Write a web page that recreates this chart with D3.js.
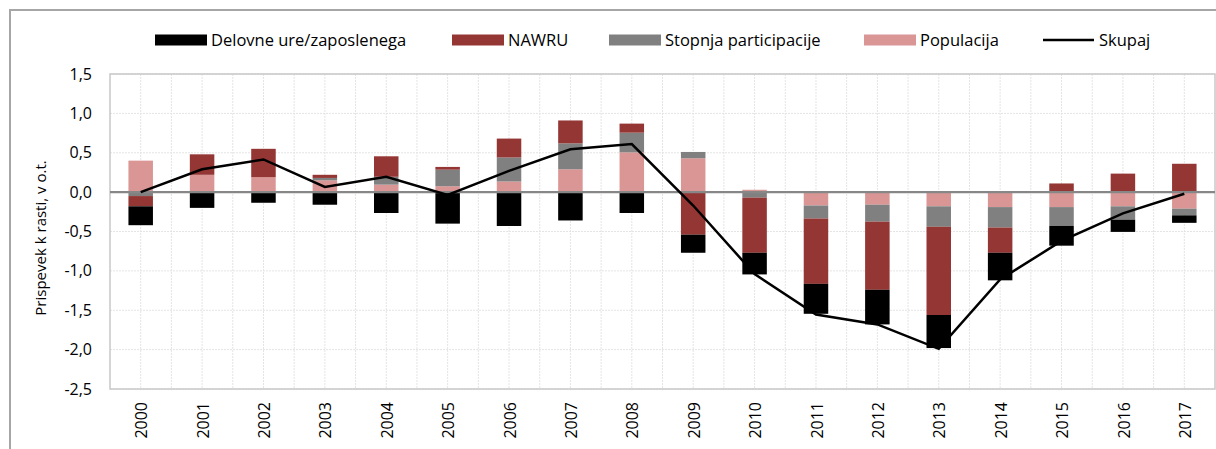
<!DOCTYPE html>
<html>
<head>
<meta charset="utf-8">
<script src="https://cdn.jsdelivr.net/npm/d3@7"></script>
<style>
  body { margin: 0; background: #fff; }
  svg { display: block; font-family: "Open Sans", "Noto Sans", sans-serif; }
</style>
</head>
<body>
<svg id="chart" width="1216" height="449"></svg>
<script>
/* podatki - prispevki k rasti potencialnega zaposlovanja */
var years = ["2000","2001","2002","2003","2004","2005","2006","2007","2008",
             "2009","2010","2011","2012","2013","2014","2015","2016","2017"];
var populacija = [0.40, 0.22, 0.19, 0.15, 0.095, 0.075, 0.135, 0.29, 0.505,
                  0.43, 0.03, -0.17, -0.16, -0.18, -0.19, -0.19, -0.18, -0.21];
var stopnja = [-0.05, 0, 0, 0.03, 0.10, 0.21, 0.305, 0.33, 0.25,
               0.08, -0.07, -0.165, -0.215, -0.26, -0.26, -0.24, -0.17, -0.085];
var nawru = [-0.13, 0.26, 0.36, 0.04, 0.26, 0.035, 0.24, 0.29, 0.115,
             -0.54, -0.70, -0.83, -0.865, -1.12, -0.32, 0.11, 0.235, 0.36];
var delovne = [-0.24, -0.20, -0.135, -0.16, -0.265, -0.40, -0.43, -0.36, -0.265,
               -0.23, -0.275, -0.38, -0.44, -0.42, -0.35, -0.25, -0.155, -0.095];
var skupaj = [0.0, 0.29, 0.415, 0.065, 0.195, -0.035, 0.27, 0.545, 0.61,
              -0.17, -1.04, -1.555, -1.68, -1.99, -1.11, -0.62, -0.27, -0.02];
var yTicks = [-2.5, -2.0, -1.5, -1.0, -0.5, 0, 0.5, 1.0, 1.5];

var svg = d3.select("#chart");
var margin = { top: 74, right: 1, bottom: 60, left: 110 },
    width = 1216 - margin.left - margin.right,
    height = 389 - margin.top;

var colors = {
  delovne: "#000000",
  nawru: "#943634",
  stopnja: "#808080",
  populacija: "#d99694"
};

/* outer frame */
svg.append("path")
  .attr("d", "M10,449 L10,10 L1216,10")
  .attr("fill", "none")
  .attr("stroke", "#a6a6a6")
  .attr("stroke-width", 2);

var g = svg.append("g").attr("transform", "translate(" + margin.left + "," + margin.top + ")");

var x = d3.scaleBand().domain(years).range([0, width]);
var y = d3.scaleLinear().domain([-2.5, 1.5]).range([height, 0]);

/* grid */
var vgrid = [];
years.forEach(function(d, i) {
  vgrid.push(x(d) + x.bandwidth() / 2);
  if (i > 0) vgrid.push(x(d));
});
g.append("g").selectAll("line").data(vgrid).enter().append("line")
  .attr("x1", function(d) { return d; }).attr("x2", function(d) { return d; })
  .attr("y1", 0).attr("y2", height)
  .attr("stroke", "#e4e4e4").attr("stroke-width", 1).attr("stroke-dasharray", "2,1");
g.append("g").selectAll("line").data(yTicks).enter().append("line")
  .attr("x1", 0).attr("x2", width)
  .attr("y1", function(d) { return y(d); }).attr("y2", function(d) { return y(d); })
  .attr("stroke", "#e4e4e4").attr("stroke-width", 1).attr("stroke-dasharray", "2,1");

/* plot border */
g.append("rect")
  .attr("x", 0).attr("y", 0).attr("width", width).attr("height", height)
  .attr("fill", "none").attr("stroke", "#c8c8c8").attr("stroke-width", 1.5);

/* stacked bars */
var rows = years.map(function(d, i) {
  return { year: d, populacija: populacija[i], stopnja: stopnja[i], nawru: nawru[i], delovne: delovne[i] };
});
var keys = ["populacija", "stopnja", "nawru", "delovne"];
var series = d3.stack().keys(keys).offset(d3.stackOffsetDiverging)(rows);
var barW = 24.5;

g.append("g").selectAll("g").data(series).enter().append("g")
  .attr("fill", function(s) { return colors[s.key]; })
  .selectAll("rect").data(function(s) { return s; }).enter().append("rect")
  .attr("x", function(d) { return x(d.data.year) + (x.bandwidth() - barW) / 2; })
  .attr("width", barW)
  .attr("y", function(d) { return y(Math.max(d[0], d[1])); })
  .attr("height", function(d) { return Math.abs(y(d[0]) - y(d[1])); });

/* zero line */
g.append("line")
  .attr("x1", 0).attr("x2", width)
  .attr("y1", y(0)).attr("y2", y(0))
  .attr("stroke", "#878787").attr("stroke-width", 2.2);

/* skupaj line */
var line = d3.line()
  .x(function(d, i) { return x(years[i]) + x.bandwidth() / 2; })
  .y(function(d) { return y(d); });
g.append("path").datum(skupaj)
  .attr("d", line)
  .attr("fill", "none")
  .attr("stroke", "#000")
  .attr("stroke-width", 2.5);

/* y axis labels */
var fmt = function(d) { return d3.format(".1f")(d).replace(".", ",").replace("−", "-"); };
g.append("g").selectAll("text").data(yTicks).enter().append("text")
  .attr("x", -18)
  .attr("y", function(d) { return y(d); })
  .attr("dy", "0.35em")
  .attr("text-anchor", "end")
  .attr("font-size", 16)
  .attr("fill", "#000")
  .text(fmt);

/* x axis labels */
g.append("g").selectAll("text").data(years).enter().append("text")
  .attr("transform", function(d) {
    return "translate(" + (x(d) + x.bandwidth() / 2 + 1) + "," + (height + 13) + ")rotate(-90)";
  })
  .attr("dy", "0.35em")
  .attr("text-anchor", "end")
  .attr("font-size", 16)
  .attr("fill", "#000")
  .text(function(d) { return d; });

/* y axis title */
svg.append("text")
  .attr("transform", "translate(41,238)rotate(-90)")
  .attr("dy", "0.35em")
  .attr("text-anchor", "middle")
  .attr("font-size", 15)
  .attr("fill", "#000")
  .text("Prispevek k rasti, v o.t.");

/* legend */
var legend = [
  { label: "Delovne ure/zaposlenega", key: "delovne", x: 155 },
  { label: "NAWRU", key: "nawru", x: 452 },
  { label: "Stopnja participacije", key: "stopnja", x: 609 },
  { label: "Populacija", key: "populacija", x: 864 },
  { label: "Skupaj", key: "line", x: 1043 }
];
var lg = svg.append("g").selectAll("g").data(legend).enter().append("g")
  .attr("transform", function(d) { return "translate(" + d.x + ",40)"; });
lg.each(function(d) {
  var el = d3.select(this);
  if (d.key === "line") {
    el.append("line").attr("x1", 0).attr("x2", 51).attr("y1", 0).attr("y2", 0)
      .attr("stroke", "#000").attr("stroke-width", 2.5);
  } else {
    el.append("rect").attr("x", 0).attr("y", -5.5).attr("width", 52).attr("height", 11)
      .attr("fill", colors[d.key]);
  }
});
lg.append("text")
  .attr("x", 56)
  .attr("dy", "0.35em")
  .attr("font-size", 16.5)
  .attr("fill", "#000")
  .text(function(d) { return d.label; });
</script>
</body>
</html>
